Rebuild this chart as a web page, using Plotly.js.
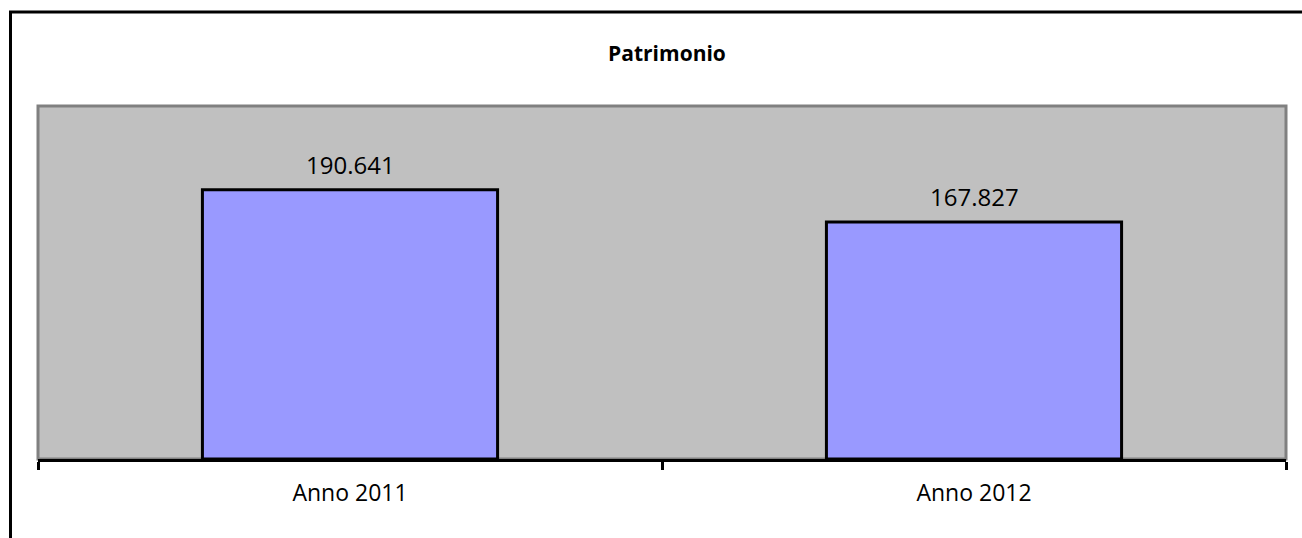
<!DOCTYPE html>
<html>
<head>
<meta charset="utf-8">
<script src="https://cdn.plot.ly/plotly-3.0.1.min.js"></script>
<style>
  html, body { margin: 0; padding: 0; background: #ffffff; }
  #chart { width: 1302px; height: 538px; }
</style>
</head>
<body>
<div id="chart"></div>
<script>
const categories = ['Anno 2011', 'Anno 2012'];
const values = [190641, 167827];
const chartTitle = 'Patrimonio';

function fmtIt(v) {
  return String(v).replace(/\B(?=(\d{3})+(?!\d))/g, '.');
}

const FONT = '"Open Sans", "Noto Sans", sans-serif';

const trace = {
  type: 'bar',
  x: categories,
  y: values,
  marker: { color: '#9999ff', line: { color: '#000000', width: 3 } },
  hoverinfo: 'skip',
  showlegend: false
};

const annotations = categories.map((c, i) => ({
  x: c, y: values[i], xref: 'x', yref: 'y',
  text: fmtIt(values[i]),
  showarrow: false,
  yanchor: 'bottom',
  yshift: 7,
  font: { family: FONT, size: 24, color: '#000000' }
}));

const layout = {
  width: 1302,
  height: 538,
  margin: { l: 38, r: 16, t: 106, b: 79 },
  paper_bgcolor: '#ffffff',
  plot_bgcolor: '#c0c0c0',
  title: {
    text: '<b>' + chartTitle + '</b>',
    x: 0.504, xref: 'paper', xanchor: 'center',
    y: 1 - 54 / 538, yref: 'container', yanchor: 'middle',
    font: { family: FONT, size: 21, color: '#000000' }
  },
  bargap: 0.527,
  xaxis: {
    type: 'category',
    showline: true,
    linecolor: '#000000',
    linewidth: 3,
    ticks: 'outside',
    tickson: 'boundaries',
    ticklen: 8,
    tickwidth: 3,
    tickcolor: '#000000',
    ticklabelstandoff: 11,
    showgrid: false,
    zeroline: false,
    tickfont: { family: FONT, size: 23, color: '#000000' },
    fixedrange: true
  },
  yaxis: {
    range: [0, 250000],
    visible: false,
    showgrid: false,
    zeroline: false,
    fixedrange: true
  },
  annotations: annotations,
  shapes: [
    {
      type: 'rect', xref: 'paper', yref: 'paper',
      x0: 0, x1: 1, y0: 0, y1: 1,
      line: { color: '#808080', width: 3 },
      layer: 'below'
    },
    {
      type: 'rect', xref: 'paper', yref: 'paper',
      x0: (10.5 - 38) / 1248, x1: 1.03,
      y0: -0.4, y1: (459 - 12) / 353,
      line: { color: '#000000', width: 3 },
      fillcolor: 'rgba(0,0,0,0)',
      layer: 'above'
    }
  ]
};

Plotly.newPlot('chart', [trace], layout, { displayModeBar: false, staticPlot: true });
</script>
</body>
</html>
